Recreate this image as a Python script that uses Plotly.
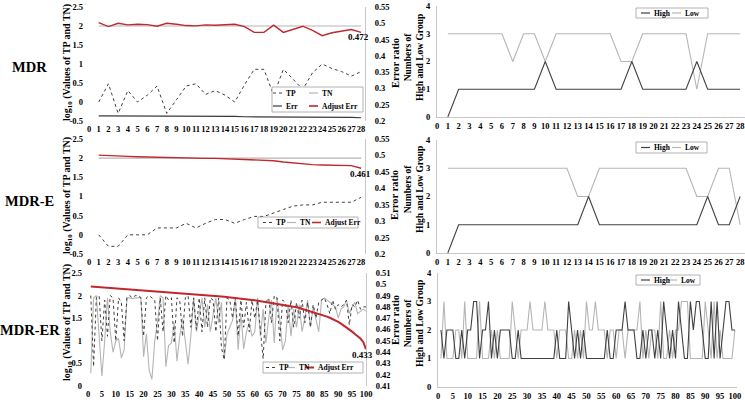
import plotly.graph_objects as go

W, H = 745, 402
FONT = "Liberation Serif"

# ---------------- data ----------------
x28 = [1, 2, 3, 4, 5, 6, 7, 8, 9, 10, 11, 12, 13, 14, 15, 16, 17, 18, 19, 20,
       21, 22, 23, 24, 25, 26, 27, 28]
x100 = list(range(1, 101))

# MDR (top-left)
mdr_tp = [0.0, 0.48, -0.3, 0.3, 0.0, 0.18, 0.42, -0.3, 0.06, 0.42, 0.48, 0.2, 0.3, 0.18,
          0.0, 0.45, 0.86, 0.86, 0.18, 0.86, 0.6, 0.33, 0.77, 1.0, 0.88, 0.8, 0.68, 0.8]
mdr_tn = [2.0, 2.0, 2.0, 2.0, 2.0, 2.0, 2.0, 2.0, 2.0, 2.0, 2.0, 2.0, 2.0, 2.0,
          2.0, 2.0, 2.0, 2.0, 2.0, 2.0, 2.0, 2.0, 2.0, 2.0, 2.0, 2.0, 2.0, 2.0]
mdr_err = [0.216, 0.216, 0.216, 0.216, 0.216, 0.216, 0.216, 0.215, 0.215, 0.215, 0.215,
           0.215, 0.214, 0.214, 0.214, 0.213, 0.213, 0.213, 0.213, 0.213, 0.212, 0.212,
           0.212, 0.212, 0.211, 0.211, 0.211, 0.210]
mdr_adj = [0.502, 0.490, 0.500, 0.495, 0.497, 0.496, 0.491, 0.500, 0.497, 0.493, 0.492,
           0.495, 0.494, 0.495, 0.497, 0.490, 0.472, 0.472, 0.494, 0.472, 0.482, 0.491,
           0.478, 0.462, 0.471, 0.476, 0.481, 0.472]

# MDR-E (middle-left)
mdre_tp = [0.0, -0.3, -0.3, 0.0, 0.0, 0.0, 0.18, 0.18, 0.18, 0.3, 0.18, 0.3, 0.4, 0.4,
           0.3, 0.4, 0.48, 0.48, 0.56, 0.66, 0.75, 0.78, 0.78, 0.85, 0.85, 0.85, 0.85, 0.98]
mdre_tn = [2.0, 2.0, 2.0, 2.0, 2.0, 2.0, 2.0, 2.0, 2.0, 2.0, 2.0, 2.0, 2.0, 2.0,
           2.0, 2.0, 2.0, 2.0, 2.0, 2.0, 2.0, 2.0, 2.0, 2.0, 2.0, 2.0, 2.0, 2.0]
mdre_adj = [0.501, 0.499, 0.498, 0.497, 0.496, 0.495, 0.495, 0.494, 0.493, 0.493, 0.492,
            0.491, 0.491, 0.490, 0.490, 0.489, 0.488, 0.487, 0.484, 0.480, 0.477, 0.474,
            0.472, 0.471, 0.470, 0.470, 0.469, 0.461]

# MDR-ER (bottom-left)
mdrer_tp = [2.0, 0.43, 1.95, 2.0, 1.0, 1.9, 1.1, 2.0, 1.95, 1.0,
            1.95, 1.85, 1.0, 1.95, 2.0, 1.95, 2.0, 2.0, 1.95, 1.1,
            1.95, 2.0, 1.95, 1.9, 1.0, 1.95, 1.2, 2.0, 1.9, 1.95,
            0.95, 1.95, 1.9, 1.1, 1.95, 2.0, 1.3, 1.95, 1.25, 1.95,
            1.2, 1.95, 1.3, 1.95, 1.9, 1.2, 1.95, 0.85, 0.58, 1.95,
            1.9, 1.5, 1.95, 1.1, 1.9, 1.3, 1.85, 1.2, 1.9, 1.5,
            1.9, 1.3, 0.6, 1.85, 1.95, 1.4, 2.0, 1.95, 1.0, 1.9,
            1.85, 1.4, 1.9, 1.3, 1.85, 1.5, 1.9, 1.4, 1.85, 1.3,
            1.8, 1.5, 1.85, 1.9, 1.95, 1.8, 1.6, 1.9, 1.7, 1.8,
            1.75, 1.8, 1.9, 1.35, 1.8, 1.75, 1.9, 1.7, 1.75, 1.75]
mdrer_tn = [0.28, 1.95, 2.0, 1.1, 0.22, 1.0, 1.95, 1.2, 0.75, 1.0,
            1.05, 0.62, 0.8, 1.95, 1.95, 1.93, 1.95, 1.95, 1.97, 0.65,
            1.15, 0.35, 0.15, 1.0, 1.4, 2.0, 1.95, 0.43, 0.9, 0.95,
            1.4, 0.55, 1.1, 1.5, 1.0, 0.48, 1.1, 1.95, 1.2, 1.6,
            1.95, 1.3, 1.8, 1.2, 1.6, 1.95, 1.4, 1.85, 0.6, 1.15,
            1.3, 1.45, 1.95, 0.8, 1.6, 0.82, 1.2, 1.4, 1.1, 1.2,
            1.95, 1.1, 1.7, 0.95, 1.5, 1.9, 0.95, 1.95, 1.45, 0.8,
            1.0, 1.8, 1.1, 1.7, 1.3, 1.8, 1.2, 1.5, 1.9, 1.3,
            1.75, 1.5, 1.2, 1.9, 1.95, 1.9, 1.85, 1.8, 1.75, 1.5,
            1.7, 1.75, 1.9, 1.6, 1.75, 1.85, 1.6, 1.65, 1.7, 1.65]
mdrer_adj = [0.4980, 0.4978, 0.4976, 0.4974, 0.4972, 0.4970, 0.4968, 0.4967, 0.4965, 0.4963,
             0.4961, 0.4959, 0.4958, 0.4956, 0.4954, 0.4952, 0.4951, 0.4949, 0.4947, 0.4946,
             0.4944, 0.4942, 0.4940, 0.4939, 0.4937, 0.4935, 0.4933, 0.4931, 0.4929, 0.4927,
             0.4925, 0.4923, 0.4921, 0.4919, 0.4917, 0.4915, 0.4913, 0.4911, 0.4909, 0.4907,
             0.4905, 0.4903, 0.4901, 0.4899, 0.4897, 0.4895, 0.4893, 0.4891, 0.4889, 0.4887,
             0.4884, 0.4882, 0.4879, 0.4877, 0.4874, 0.4871, 0.4868, 0.4865, 0.4862, 0.4859,
             0.4855, 0.4852, 0.4848, 0.4845, 0.4841, 0.4837, 0.4833, 0.4828, 0.4824, 0.4819,
             0.4814, 0.4810, 0.4806, 0.4801, 0.4796, 0.4790, 0.4783, 0.4776, 0.4769, 0.4762,
             0.4755, 0.4748, 0.4741, 0.4733, 0.4725, 0.4714, 0.4704, 0.4693, 0.4681, 0.4668,
             0.4652, 0.4636, 0.4619, 0.4601, 0.4581, 0.4560, 0.4540, 0.4520, 0.4490, 0.4425]

# High / Low group counts (right column)
mdr_high = [0, 1, 1, 1, 1, 1, 1, 1, 1, 2, 1, 1, 1, 1, 1, 1, 1, 2, 1, 1, 1, 1, 1, 2, 1, 1, 1, 1]
mdr_low = [3, 3, 3, 3, 3, 3, 2, 3, 3, 2, 3, 3, 3, 3, 3, 3, 2, 2, 3, 3, 3, 3, 3, 1, 3, 3, 3, 3]
mdre_high = [0, 1, 1, 1, 1, 1, 1, 1, 1, 1, 1, 1, 1, 2, 1, 1, 1, 1, 1, 1, 1, 1, 1, 1, 2, 1, 1, 2]
mdre_low = [3, 3, 3, 3, 3, 3, 3, 3, 3, 3, 3, 3, 2, 2, 3, 3, 3, 3, 3, 3, 3, 3, 3, 2, 2, 3, 3, 1]
mdrer_high = [2, 1, 2, 2, 2, 1, 1, 2, 1, 2,
              2, 3, 3, 1, 2, 2, 3, 1, 2, 1,
              2, 2, 2, 2, 1, 1, 2, 1, 1, 1,
              1, 1, 1, 1, 1, 1, 1, 1, 1, 2,
              1, 1, 1, 3, 2, 1, 2, 1, 2, 1,
              1, 1, 1, 1, 1, 1, 2, 1, 1, 2,
              2, 2, 3, 2, 2, 2, 1, 1, 2, 1,
              2, 2, 1, 2, 1, 3, 2, 1, 2, 1,
              3, 2, 1, 1, 3, 2, 3, 3, 2, 1,
              1, 3, 1, 3, 1, 2, 3, 3, 2, 2]
mdrer_low = [1, 3, 1, 1, 1, 2, 2, 1, 3, 1,
             1, 1, 1, 3, 1, 1, 1, 2, 1, 2,
             1, 1, 1, 1, 3, 2, 1, 2, 2, 2,
             3, 2, 2, 2, 2, 3, 2, 2, 2, 1,
             2, 2, 2, 1, 1, 2, 1, 2, 1, 3,
             2, 2, 3, 2, 2, 2, 1, 2, 2, 1,
             2, 2, 1, 2, 2, 2, 2, 3, 1, 2,
             1, 2, 2, 1, 3, 1, 1, 2, 1, 2,
             2, 3, 3, 3, 1, 1, 1, 1, 1, 3,
             2, 1, 3, 1, 2, 1, 1, 1, 1, 2]

# tick labels
log_ticks_a = [-0.5, 0, 0.5, 1, 1.5, 2, 2.5]
log_text_a = ["-0.5", "0", "0.5", "1", "1.5", "2", "2.5"]
log_ticks_b = [0, 0.5, 1, 1.5, 2, 2.5]
log_text_b = ["0", "0.5", "1", "1.5", "2", "2.5"]
err_ticks_a = [0.2, 0.25, 0.3, 0.35, 0.4, 0.45, 0.5, 0.55]
err_text_a = ["0.2", "0.25", "0.3", "0.35", "0.4", "0.45", "0.5", "0.55"]
err_ticks_b = [0.41, 0.42, 0.43, 0.44, 0.45, 0.46, 0.47, 0.48, 0.49, 0.5, 0.51]
err_text_b = ["0.41", "0.42", "0.43", "0.44", "0.45", "0.46", "0.47", "0.48", "0.49", "0.5", "0.51"]
cnt_ticks = [0, 1, 2, 3, 4]
x28_ticks = list(range(0, 29))
x100_ticks = list(range(0, 101, 5))
row_labels = ["MDR", "MDR-E", "MDR-ER"]
end_labels = ["0.472", "0.461", "0.433"]

# ---------------- styling ----------------
C_TP = "#3f3f3f"
C_TN = "#b5b5b5"
C_ERR = "#3a3a3a"
C_ADJ = "#c0282d"
C_HIGH = "#404040"
C_LOW = "#b5b5b5"
AX_LINE = "#c8c8c8"
TICK_SIZE = 8.5


def fx(p):
    return p / W


def fy(p):
    return 1 - p / H


def tickfont():
    return dict(family=FONT, size=TICK_SIZE, color="#000", weight="bold")


fig = go.Figure()

# --- left panels ---
left_panels = [
    ("x", "y", "y7", mdr_tp, mdr_tn, mdr_err, mdr_adj, x28, 1.4),
    ("x2", "y2", "y8", mdre_tp, mdre_tn, None, mdre_adj, x28, 1.4),
    ("x3", "y3", "y9", mdrer_tp, mdrer_tn, None, mdrer_adj, x100, 2.0),
]
for xa, ya, ya2, tp, tn, err, adj, xs, aw in left_panels:
    fig.add_trace(go.Scatter(x=xs, y=tn, xaxis=xa, yaxis=ya, mode="lines",
                             line=dict(color=C_TN, width=1.1), name="TN"))
    fig.add_trace(go.Scatter(x=xs, y=tp, xaxis=xa, yaxis=ya, mode="lines",
                             line=dict(color=C_TP, width=1, dash="dot"), name="TP"))
    if err is not None:
        fig.add_trace(go.Scatter(x=xs, y=err, xaxis=xa, yaxis=ya2, mode="lines",
                                 line=dict(color=C_ERR, width=1.2), name="Err"))
    fig.add_trace(go.Scatter(x=xs, y=adj, xaxis=xa, yaxis=ya2, mode="lines",
                             line=dict(color=C_ADJ, width=aw), name="Adjust Err"))

# --- right panels ---
right_panels = [
    ("x4", "y4", mdr_high, mdr_low, x28),
    ("x5", "y5", mdre_high, mdre_low, x28),
    ("x6", "y6", mdrer_high, mdrer_low, x100),
]
for xa, ya, hi, lo, xs in right_panels:
    fig.add_trace(go.Scatter(x=xs, y=lo, xaxis=xa, yaxis=ya, mode="lines",
                             line=dict(color=C_LOW, width=1.1), name="Low"))
    fig.add_trace(go.Scatter(x=xs, y=hi, xaxis=xa, yaxis=ya, mode="lines",
                             line=dict(color=C_HIGH, width=1.1), name="High"))


def xaxis(dom, rng, tickvals, anchor):
    return dict(domain=[fx(dom[0]), fx(dom[1])], range=rng, tickmode="array",
                tickvals=tickvals, ticktext=[str(v) for v in tickvals], tickangle=0,
                showgrid=False, zeroline=False, showline=False, ticks="",
                tickfont=tickfont(), automargin=False, ticklabelstandoff=1,
                ticklabeloverflow="allow",
                anchor=anchor, linecolor=AX_LINE, linewidth=1)


def yaxis(dom, rng, tickvals, ticktext, anchor, showline=False, standoff=5):
    return dict(domain=[fy(dom[1]), fy(dom[0])], range=rng, tickmode="array",
                tickvals=tickvals, ticktext=ticktext, showgrid=False, zeroline=False,
                showline=showline, linecolor=AX_LINE, linewidth=1, ticks="",
                tickfont=tickfont(), anchor=anchor, automargin=False,
                ticklabelstandoff=standoff)


def yaxis_right(over, anchor, rng, tickvals, ticktext):
    return dict(overlaying=over, side="right", anchor=anchor, range=rng,
                tickmode="array", tickvals=tickvals, ticktext=ticktext,
                showgrid=False, zeroline=False, showline=True, linecolor=AX_LINE,
                linewidth=1, ticks="", tickfont=tickfont(), automargin=False,
                ticklabelstandoff=7)


x4 = xaxis((437, 745), [0, 28.45], x28_ticks, "y4")
x5 = xaxis((437, 745), [0, 28.45], x28_ticks, "y5")
x6 = xaxis((438, 737), [0, 100.7], x100_ticks, "y6")
for ax in (x4, x5, x6):
    ax["showline"] = True
cnt_text = [str(v) for v in cnt_ticks]

fig.update_layout(
    width=W, height=H, margin=dict(l=0, r=0, t=0, b=0),
    paper_bgcolor="white", plot_bgcolor="rgba(0,0,0,0)", showlegend=False,
    font=dict(family=FONT, color="#000"),
    xaxis=xaxis((89, 365), [0, 28.4], x28_ticks, "y"),
    xaxis2=xaxis((89, 365), [0, 28.4], x28_ticks, "y2"),
    xaxis3=xaxis((88, 366), [0, 100], x100_ticks, "y3"),
    xaxis4=x4, xaxis5=x5, xaxis6=x6,
    yaxis=yaxis((7, 121), [-0.5, 2.5], log_ticks_a, log_text_a, "x"),
    yaxis2=yaxis((139, 254), [-0.5, 2.5], log_ticks_a, log_text_a, "x2"),
    yaxis3=yaxis((273, 386), [0, 2.5], log_ticks_b, log_text_b, "x3"),
    yaxis4=yaxis((6, 117), [0, 4], cnt_ticks, cnt_text, "x4", True, 4),
    yaxis5=yaxis((140, 253), [0, 4], cnt_ticks, cnt_text, "x5", True, 4),
    yaxis6=yaxis((273, 387), [0, 4], cnt_ticks, cnt_text, "x6", True, 4),
    yaxis7=yaxis_right("y", "x", [0.2, 0.55], err_ticks_a, err_text_a),
    yaxis8=yaxis_right("y2", "x2", [0.2, 0.55], err_ticks_a, err_text_a),
    yaxis9=yaxis_right("y3", "x3", [0.41, 0.51], err_ticks_b, err_text_b),
)

annotations = []
shapes = []


def text(x, y, s, size=9.5, angle=0, xanchor="center", weight="bold"):
    annotations.append(dict(x=fx(x), y=fy(y), xref="paper", yref="paper", text=s,
                            showarrow=False, textangle=angle, xanchor=xanchor,
                            yanchor="middle",
                            font=dict(family=FONT, size=size, color="#000",
                                      weight=weight)))


# row labels
for lab, yc in zip(row_labels, [67, 201, 330]):
    text(30, yc, lab, size=14.5)

# axis titles
for yc in [63, 196, 323]:
    text(67, yc, "log<sub>10</sub> (Values of TP and TN)", size=10, angle=-90)
for yc in [63, 195, 320]:
    text(395, yc, "Error ratio", size=10.5, angle=-90)
for yc in [58, 190, 324]:
    text(414, yc, "Numbers of<br>High and Low Group", size=9.5, angle=-90)

# end-point labels of Adjust Err
for lab, (xc, yc) in zip(end_labels, [(358, 37), (360, 174), (362, 355)]):
    text(xc, yc, lab, size=9)


def box(x0, y0, x1, y1):
    shapes.append(dict(type="rect", xref="paper", yref="paper", x0=fx(x0), x1=fx(x1),
                       y0=fy(y1), y1=fy(y0), line=dict(color="#a0a0a0", width=0.8),
                       fillcolor="white", layer="above"))


def sample(x0, x1, y, color, width=1.2, dash="solid"):
    shapes.append(dict(type="line", xref="paper", yref="paper", x0=fx(x0), x1=fx(x1),
                       y0=fy(y), y1=fy(y), line=dict(color=color, width=width, dash=dash),
                       layer="above"))


def entry(x, y, label, color, width=1.2, dash="solid", w=9):
    sample(x, x + w, y, color, width, dash)
    text(x + w + 1.5, y, label, size=7.5, xanchor="left")


# legends - left column
box(272, 87, 363, 112)
entry(273, 93, "TP", C_TP, 1, "dot")
entry(309, 93, "TN", C_TN)
entry(273, 106, "Err", C_ERR)
entry(309, 106, "Adjust Err", C_ADJ, 1.6)

box(258, 217, 358, 228)
entry(263, 222.5, "TP", C_TP, 1, "dot")
entry(287, 222.5, "TN", C_TN)
entry(312, 222.5, "Adjust Err", C_ADJ, 1.6)

box(263, 362, 363, 373)
entry(266, 367.5, "TP", C_TP, 1, "dot")
entry(286, 367.5, "TN", C_TN)
entry(305, 367.5, "Adjust Err", C_ADJ, 2)

# legends - right column
for y0, y1, xr in [(8, 18, 708), (142, 153, 707), (275, 285, 700)]:
    box(636, y0, xr, y1)
    yc = (y0 + y1) / 2
    entry(641, yc, "High", C_HIGH)
    entry(672 if xr > 702 else 668, yc, "Low", C_LOW)

fig.update_layout(annotations=annotations, shapes=shapes)
fig.write_html("out.html", config={"displayModeBar": False},
               post_script="document.body.style.margin='0';document.body.style.overflow='hidden';")
